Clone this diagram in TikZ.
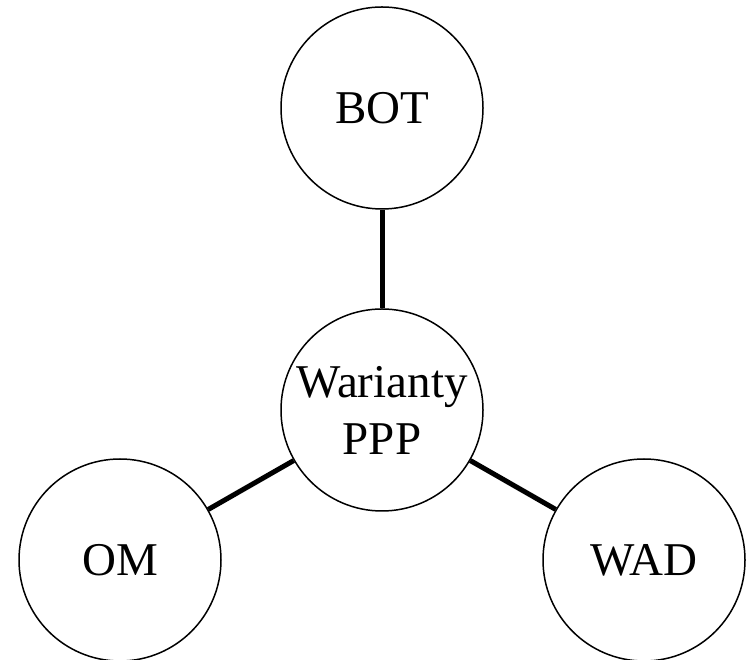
\documentclass[tikz,border=0pt]{standalone}
\usepackage{fontspec}
\setmainfont{Liberation Serif}
\begin{document}
\begin{tikzpicture}[x=1pt,y=1pt,
  circ/.style={draw=black, line width=1.5pt, circle, minimum size=202pt, inner sep=0pt,
    font=\fontsize{47}{57}\selectfont, align=center},
  link/.style={draw=black, line width=5pt}]
\useasboundingbox (0,0) rectangle (746,660);
\node[circ] (bot) at (382,552) {BOT};
\node[circ] (mid) at (382,250) {Warianty\\PPP};
\node[circ] (om) at (120,100) {OM};
\node[circ] (wad) at (644,100) {WAD};
\draw[link] (bot) -- (mid);
\draw[link] (mid) -- (om);
\draw[link] (mid) -- (wad);
\end{tikzpicture}
\end{document}
